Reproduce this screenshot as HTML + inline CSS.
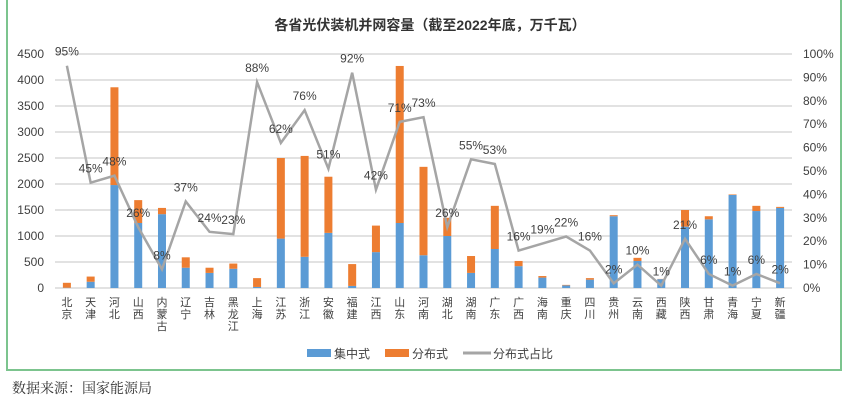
<!DOCTYPE html>
<html><head><meta charset="utf-8">
<style>
body{margin:0;width:849px;height:412px;background:#fff;overflow:hidden;font-family:"Liberation Sans","Noto Sans CJK SC",sans-serif;}
#frame{position:absolute;left:6px;top:-2px;width:836px;height:373px;border:2px solid #7cc48e;box-sizing:border-box;}
#src{position:absolute;left:12px;top:378px;font-family:"Noto Serif CJK SC","Liberation Serif",serif;font-size:14px;color:#333;}
</style></head><body>
<div id="frame"></div>
<svg id="chart" width="849" height="412" style="position:absolute;left:0;top:0"></svg>
<div id="src">数据来源：国家能源局</div>
<script>
const categories=["北京","天津","河北","山西","内蒙古","辽宁","吉林","黑龙江","上海","江苏","浙江","安徽","福建","江西","山东","河南","湖北","湖南","广东","广西","海南","重庆","四川","贵州","云南","西藏","陕西","甘肃","青海","宁夏","新疆"];
const centralized=[5,120,1980,1250,1420,390,290,370,20,950,600,1060,40,690,1250,630,1000,290,750,420,200,50,160,1380,520,170,1180,1320,1790,1480,1540];
const distributed=[95,100,1880,440,120,200,100,100,170,1550,1940,1080,420,510,3020,1700,350,325,830,100,30,10,30,20,60,5,320,60,10,100,20];
const sharePct=[95,45,48,26,8,37,24,23,88,62,76,51,92,42,71,73,26,55,53,16,19,22,16,2,10,1,21,6,1,6,2];
const leftTicks=[0,500,1000,1500,2000,2500,3000,3500,4000,4500];
const rightTicks=[0,10,20,30,40,50,60,70,80,90,100];
const NS="http://www.w3.org/2000/svg";
const svg=document.getElementById('chart');
const x0=55,x1=792,y0=288,yT=54;
const yL=v=>y0-(v/4500)*(y0-yT);
const yR=p=>y0-(p/100)*(y0-yT);
const step=(x1-x0)/categories.length;
const xC=i=>x0+step*(i+0.5);
function mk(t,a){const e=document.createElementNS(NS,t);for(const k in a)e.setAttribute(k,a[k]);svg.appendChild(e);return e;}
let t=mk('text',{x:430,y:30,'text-anchor':'middle','font-size':'14','font-weight':'bold',fill:'#333'});

t.textContent='各省光伏装机并网容量（截至2022年底，万千瓦）';
leftTicks.forEach(v=>{const g=mk('line',{x1:x0,x2:x1,y1:yL(v),y2:yL(v),stroke:'#d9d9d9','stroke-width':1.5});

const l=mk('text',{x:44,y:yL(v)+4,'text-anchor':'end','font-size':'12',fill:'#404040'});
l.textContent=v;});
rightTicks.forEach(p=>{const l=mk('text',{x:803,y:yR(p)+4,'font-size':'12',fill:'#404040'});
l.textContent=p+'%';});
const bw=8;
categories.forEach((c,i)=>{
 const b=mk('rect',{x:xC(i)-bw/2,y:yL(centralized[i]),width:bw,height:y0-yL(centralized[i]),fill:'#5b9bd5'});
 
 const o=mk('rect',{x:xC(i)-bw/2,y:yL(centralized[i]+distributed[i]),width:bw,height:yL(centralized[i])-yL(centralized[i]+distributed[i]),fill:'#ed7d31'});
 
 const l=mk('text',{x:xC(i),y:306,'text-anchor':'middle','font-size':'11',fill:'#404040'});
 
 [...c].forEach((ch,k)=>{const s=document.createElementNS(NS,'tspan');s.setAttribute('x',xC(i));s.setAttribute('y',306+k*12);s.textContent=ch;l.appendChild(s);});
});
const pts=sharePct.map((p,i)=>xC(i)+','+yR(p)).join(' ');
const pl=mk('polyline',{points:pts,fill:'none',stroke:'#a5a5a5','stroke-width':2.5});

sharePct.forEach((p,i)=>{const l=mk('text',{x:xC(i),y:yR(p)-10,'text-anchor':'middle','font-size':'12',fill:'#404040'});
l.textContent=p+'%';});
const lg=[['rect',307,'#5b9bd5','集中式'],['rect',385,'#ed7d31','分布式'],['line',463,'#a5a5a5','分布式占比']];
lg.forEach(([k,x,c,s])=>{
 let m=k==='rect'?mk('rect',{x:x,y:349,width:24,height:8,fill:c}):mk('line',{x1:x,x2:x+28,y1:353,y2:353,stroke:c,'stroke-width':3});
 
 const l=mk('text',{x:x+(k==='rect'?27:30),y:358,'font-size':'12',fill:'#404040'});
 l.textContent=s;});
</script>
</body></html>
